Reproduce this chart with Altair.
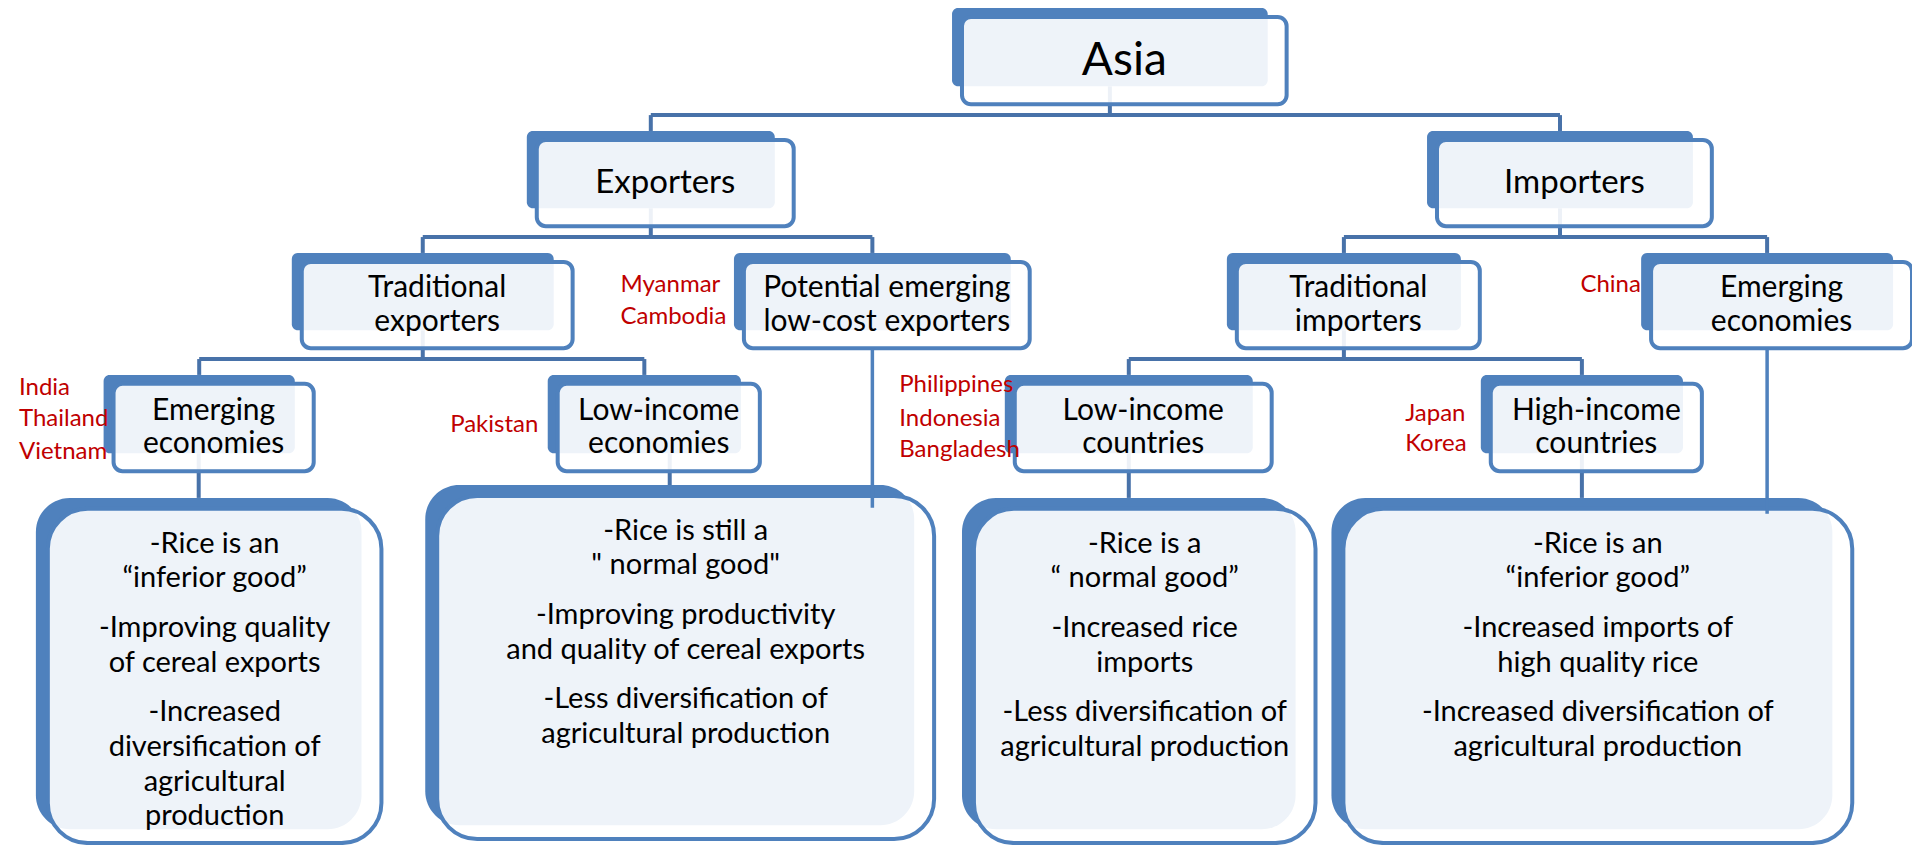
import altair as alt
import pandas as pd

# ---------------- hierarchy boxes (upper part) ----------------
node_id = ["asia", "exp", "imp", "tradexp", "potential", "tradimp", "emergimp",
           "emergexp", "lowexp", "lowimp", "highimp"]
node_parent = [None, "asia", "asia", "exp", "exp", "imp", "imp",
               "tradexp", "tradexp", "tradimp", "tradimp"]
node_text = [["Asia"], ["Exporters"], ["Importers"],
             ["Traditional", "exporters"],
             ["Potential emerging", "low-cost exporters"],
             ["Traditional", "importers"],
             ["Emerging", "economies"],
             ["Emerging", "economies"],
             ["Low-income", "economies"],
             ["Low-income", "countries"],
             ["High-income", "countries"]]
node_level = [0, 1, 1, 2, 2, 2, 2, 3, 3, 3, 3]
node_x0 = [956, 529, 1433, 293, 737, 1232, 1648, 104, 550, 1009, 1487]
node_x1 = [1273, 778, 1700, 556, 1015, 1467, 1901, 296, 744, 1258, 1690]
node_y0 = [8, 132, 132, 255, 255, 255, 255, 378, 378, 378, 378]
node_y1 = [87, 210, 210, 333, 333, 333, 333, 457, 457, 457, 457]

# ---------------- description cards (bottom) ----------------
card_parent = ["emergexp", "lowexp", "lowimp", "highimp"]
card_x0 = [36, 427, 966, 1337]
card_x1 = [363, 918, 1301, 1840]
card_y0 = [502, 489, 502, 502]
card_y1 = [836, 832, 836, 836]
card_text = [
    [["-Rice is an", "\u201cinferior good\u201d"],
     ["-Improving quality", "of cereal exports"],
     ["-Increased", "diversification of", "agricultural", "production"]],
    [["-Rice is still a", "\" normal good\""],
     ["-Improving productivity", "and quality of cereal exports"],
     ["-Less diversification of", "agricultural production"]],
    [["-Rice is a", "\u201c normal good\u201d"],
     ["-Increased rice", "imports"],
     ["-Less diversification of", "agricultural production"]],
    [["-Rice is an", "\u201cinferior good\u201d"],
     ["-Increased imports of", "high quality rice"],
     ["-Increased  diversification of", "agricultural production"]],
]
# long drop lines from two boxes straight into the cards
long_from = ["potential", "emergimp"]
long_to_y = [512, 518]

# ---------------- country labels ----------------
country_names = ["India", "Thailand", "Vietnam", "Pakistan", "Myanmar", "Cambodia",
                 "Philippines", "Indonesia", "Bangladesh", "China", "Japan", "Korea"]
country_x = [19, 19, 19, 452, 623, 623, 903, 903, 903, 1587, 1411, 1411]
country_y = [391, 422, 456, 428, 287, 320, 388, 422, 454, 287, 417, 448]

# ---------------- styling ----------------
BLUE = "#4F81BD"
LINE = "#4872A9"
FONT = "Lato"
FRONT_OFF = (10, 9, 19, 18)      # front box offset relative to back box
CARD_OFF = (12, 11, 20, 14)

# ---------------- build tables ----------------
nodes = pd.DataFrame({"id": node_id, "parent": node_parent, "level": node_level,
                      "x0": node_x0, "x1": node_x1, "y0": node_y0, "y1": node_y1})
nodes["cx"] = (nodes.x0 + nodes.x1) / 2
nodes["fx0"] = nodes.x0 + FRONT_OFF[0]
nodes["fy0"] = nodes.y0 + FRONT_OFF[1]
nodes["fx1"] = nodes.x1 + FRONT_OFF[2]
nodes["fy1"] = nodes.y1 + FRONT_OFF[3]
idx = {n: i for i, n in enumerate(node_id)}

cards = pd.DataFrame({"parent": card_parent, "x0": card_x0, "x1": card_x1,
                      "y0": card_y0, "y1": card_y1})
cards["cx"] = (cards.x0 + cards.x1) / 2
cards["fx0"] = cards.x0 + CARD_OFF[0]
cards["fy0"] = cards.y0 + CARD_OFF[1]
cards["fx1"] = cards.x1 + CARD_OFF[2]
cards["fy1"] = cards.y1 + CARD_OFF[3]

# connector segments (elbow tree)
segs = []
for pid in node_id:
    kids = [i for i, p in enumerate(node_parent) if p == pid]
    if not kids:
        continue
    p = idx[pid]
    bus = min(node_y0[k] for k in kids) - 16
    pcx = nodes.cx[p]
    segs.append((pcx, node_y1[p], pcx, bus))
    kx = [nodes.cx[k] for k in kids]
    segs.append((min(kx + [pcx]), bus, max(kx + [pcx]), bus))
    for k in kids:
        segs.append((nodes.cx[k], bus, nodes.cx[k], node_y0[k]))
for j, pid in enumerate(card_parent):
    p = idx[pid]
    segs.append((cards.cx[j], node_y1[p], cards.cx[j], card_y0[j]))
segs = pd.DataFrame(segs, columns=["sx", "sy", "sx2", "sy2"])

over = []
for pid, ty in zip(long_from, long_to_y):
    p = idx[pid]
    over.append((nodes.cx[p], nodes.fy1[p], nodes.cx[p], ty))
over = pd.DataFrame(over, columns=["sx", "sy", "sx2", "sy2"])

# text rows
LSTEP = 34
txt_rows = []
for i, lines in enumerate(node_text):
    cx = (nodes.fx0[i] + nodes.fx1[i]) / 2
    cy = (nodes.fy0[i] + nodes.fy1[i]) / 2
    n = len(lines)
    for k, t in enumerate(lines):
        txt_rows.append({"t": t, "tx": cx, "ty": cy + (k - (n - 1) / 2) * LSTEP,
                         "lvl": node_level[i]})
txt = pd.DataFrame(txt_rows)

card_rows = []
for j, paras in enumerate(card_text):
    cx = (cards.fx0[j] + cards.fx1[j]) / 2
    y = cards.fy0[j] + 35
    for para in paras:
        for t in para:
            card_rows.append({"t": t, "tx": cx, "ty": y})
            y += 35
        y += 15
card_txt = pd.DataFrame(card_rows)

ctry = pd.DataFrame({"t": country_names, "tx": country_x, "ty": country_y})

# ---------------- chart ----------------
X = alt.Scale(domain=[8, 1920], nice=False, zero=False)
Y = alt.Scale(domain=[8, 852], nice=False, zero=False, reverse=True)


def rects(df, fx0, fx1, fy0, fy1, **mark):
    return alt.Chart(df).mark_rect(**mark).encode(
        x=alt.X(f"{fx0}:Q", scale=X, axis=None),
        x2=alt.X2(f"{fx1}:Q"),
        y=alt.Y(f"{fy0}:Q", scale=Y, axis=None),
        y2=alt.Y2(f"{fy1}:Q"),
    )


def rules(df, width, color):
    return alt.Chart(df).mark_rule(strokeWidth=width, color=color).encode(
        x=alt.X("sx:Q", scale=X, axis=None),
        x2=alt.X2("sx2:Q"),
        y=alt.Y("sy:Q", scale=Y, axis=None),
        y2=alt.Y2("sy2:Q"),
    )


def texts(df, size, color="black", align="center"):
    return alt.Chart(df).mark_text(font=FONT, fontSize=size, color=color,
                                   align=align, baseline="middle").encode(
        x=alt.X("tx:Q", scale=X, axis=None),
        y=alt.Y("ty:Q", scale=Y, axis=None),
        text="t:N",
    )


layers = [
    rules(segs, 4, LINE),
    rects(nodes, "x0", "x1", "y0", "y1", fill=BLUE, cornerRadius=6),
    rects(nodes, "fx0", "fx1", "fy0", "fy1", fill="white", fillOpacity=0.9,
          stroke=BLUE, strokeWidth=4, cornerRadius=9),
    rects(cards, "x0", "x1", "y0", "y1", fill=BLUE, cornerRadius=34),
    rects(cards, "fx0", "fx1", "fy0", "fy1", fill="white", fillOpacity=0.9,
          stroke=BLUE, strokeWidth=4, cornerRadius=40),
    rules(over, 3.5, BLUE),
    texts(txt[txt.lvl == 0], 46),
    texts(txt[txt.lvl == 1], 33),
    texts(txt[txt.lvl >= 2], 30),
    texts(card_txt, 29),
    texts(ctry, 24, color="#C00000", align="left"),
]

chart = alt.layer(*layers).properties(
    width=1904, height=837,
    autosize=alt.AutoSizeParams(type="none"),
    padding=0,
    background="white",
).configure_view(stroke=None)

chart.save("out.html", embed_options={"renderer": "svg", "actions": False})
